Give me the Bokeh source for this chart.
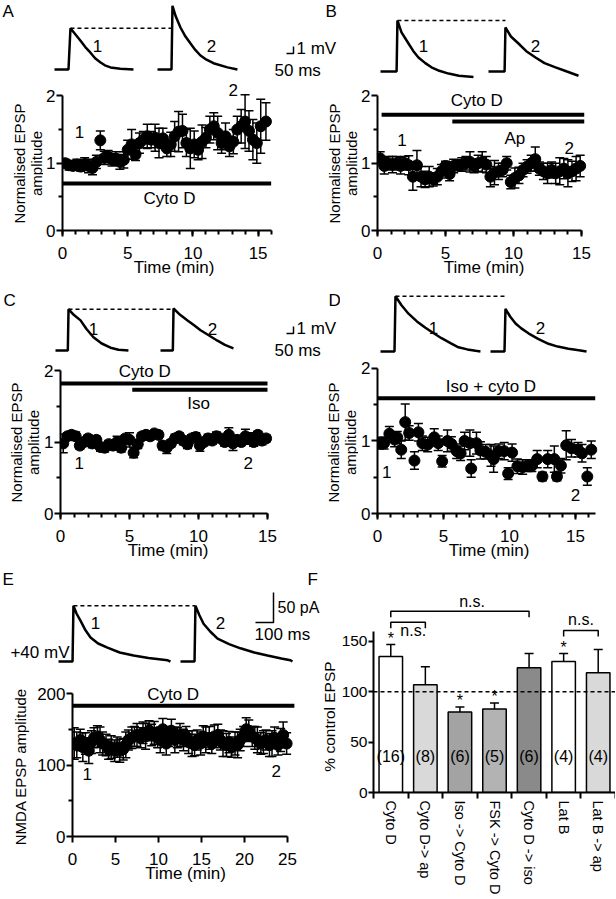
import math
from bokeh.plotting import figure
from bokeh.models import Range1d, FixedTicker, Whisker, TeeHead, ColumnDataSource, Span
from bokeh.layouts import column, row
from bokeh.embed import file_html
from bokeh.resources import INLINE
from bokeh.core.properties import value

FONT = "Liberation Sans"

# ---------------- Panel A: Cyto D ----------------
a_time = [0.2, 0.5, 0.8, 1.1, 1.4, 1.7, 2.0, 2.3, 2.6, 2.9, 3.2, 3.5, 3.8, 4.1, 4.4, 4.7, 5.0, 5.3, 5.6, 5.9,
          6.2, 6.5, 6.8, 7.1, 7.4, 7.7, 8.0, 8.3, 8.6, 8.9, 9.2, 9.5, 9.8, 10.1, 10.4, 10.7, 11.0, 11.3, 11.6, 11.9,
          12.2, 12.5, 12.8, 13.1, 13.4, 13.7, 14.0, 14.3, 14.6, 14.9, 15.2, 15.6]
a_mean = [1.00, 0.97, 0.96, 0.98, 0.95, 0.99, 0.96, 0.93, 1.02, 1.34, 1.08, 1.10, 1.05, 1.07, 1.02, 1.05, 1.20, 1.28, 1.13, 1.30,
          1.35, 1.40, 1.35, 1.38, 1.30, 1.37, 1.22, 1.28, 1.40, 1.47, 1.48, 1.30, 1.22, 1.28, 1.20, 1.32, 1.38, 1.50, 1.55, 1.45,
          1.30, 1.40, 1.25, 1.32, 1.50, 1.55, 1.62, 1.48, 1.35, 1.30, 1.55, 1.62]
a_sem = [0.06, 0.07, 0.06, 0.08, 0.07, 0.09, 0.10, 0.10, 0.10, 0.14, 0.10, 0.09, 0.09, 0.10, 0.11, 0.12, 0.14, 0.22, 0.09, 0.15,
         0.12, 0.18, 0.12, 0.20, 0.22, 0.15, 0.12, 0.18, 0.22, 0.30, 0.25, 0.20, 0.30, 0.20, 0.15, 0.25, 0.15, 0.20, 0.20, 0.25,
         0.15, 0.20, 0.15, 0.18, 0.20, 0.25, 0.40, 0.30, 0.30, 0.30, 0.40, 0.28]
a_drug = ["Cyto D"]
a_drug_start = [0.0]
a_drug_end = [16.0]
a_drug_level = [0.70]

# ---------------- Panel B: Cyto D then Ap ----------------
b_time = [0.2, 0.5, 0.8, 1.1, 1.4, 1.7, 2.0, 2.3, 2.6, 2.9, 3.2, 3.5, 3.8, 4.1, 4.4, 4.7, 5.0, 5.3, 5.6, 5.9,
          6.2, 6.5, 6.8, 7.1, 7.4, 7.7, 8.0, 8.3, 8.6, 8.9, 9.2, 9.5, 9.8, 10.1, 10.4, 10.7, 11.0, 11.3, 11.6, 11.9,
          12.2, 12.5, 12.8, 13.1, 13.4, 13.7, 14.0, 14.3, 14.6, 14.9]
b_mean = [1.07, 0.96, 1.00, 0.98, 1.00, 0.96, 1.00, 0.97, 0.80, 0.97, 0.80, 0.76, 0.80, 0.76, 0.80, 0.88, 0.96, 0.84, 0.96, 0.97,
          0.98, 1.00, 1.02, 0.96, 1.00, 1.02, 0.98, 0.80, 0.86, 0.88, 0.90, 1.00, 0.72, 0.78, 0.82, 0.90, 0.95, 1.00, 1.06, 0.92,
          0.88, 0.85, 0.90, 0.85, 0.88, 0.92, 0.85, 0.88, 0.92, 0.96]
b_sem = [0.10, 0.12, 0.10, 0.12, 0.10, 0.12, 0.10, 0.14, 0.20, 0.22, 0.15, 0.12, 0.15, 0.10, 0.12, 0.10, 0.07, 0.10, 0.10, 0.08,
         0.10, 0.10, 0.15, 0.10, 0.12, 0.15, 0.12, 0.15, 0.18, 0.12, 0.10, 0.10, 0.10, 0.15, 0.12, 0.10, 0.10, 0.12, 0.18, 0.10,
         0.12, 0.15, 0.12, 0.15, 0.20, 0.15, 0.20, 0.15, 0.18, 0.16]
b_drug = ["Cyto D", "Ap"]
b_drug_start = [0.3, 5.5]
b_drug_end = [15.2, 15.2]
b_drug_level = [1.72, 1.62]

# ---------------- Panel C: Cyto D then Iso ----------------
c_time = [0.2, 0.5, 0.8, 1.1, 1.4, 1.7, 2.0, 2.3, 2.6, 2.9, 3.2, 3.5, 3.8, 4.1, 4.4, 4.7, 5.0, 5.3, 5.6, 5.9,
          6.2, 6.5, 6.8, 7.1, 7.4, 7.7, 8.0, 8.3, 8.6, 8.9, 9.2, 9.5, 9.8, 10.1, 10.4, 10.7, 11.0, 11.3, 11.6, 11.9,
          12.2, 12.5, 12.8, 13.1, 13.4, 13.7, 14.0, 14.3, 14.6, 14.9]
c_mean = [0.98, 1.08, 1.10, 1.08, 0.95, 1.00, 1.05, 0.98, 1.03, 0.93, 0.92, 0.97, 0.95, 1.00, 0.92, 1.05, 1.03, 0.85, 0.97, 1.08,
          1.10, 1.08, 1.12, 1.10, 0.95, 0.92, 0.98, 1.05, 1.08, 1.02, 0.97, 1.05, 1.07, 0.95, 1.00, 1.05, 1.02, 1.08, 1.05, 1.00,
          1.10, 0.98, 1.03, 1.00, 1.08, 1.05, 1.00, 1.10, 1.02, 1.05]
c_sem = [0.13, 0.05, 0.05, 0.06, 0.05, 0.06, 0.05, 0.06, 0.05, 0.06, 0.06, 0.05, 0.06, 0.08, 0.06, 0.05, 0.10, 0.07, 0.06, 0.05,
         0.05, 0.05, 0.04, 0.05, 0.06, 0.08, 0.05, 0.06, 0.05, 0.06, 0.06, 0.05, 0.06, 0.08, 0.05, 0.06, 0.05, 0.06, 0.05, 0.06,
         0.10, 0.10, 0.06, 0.05, 0.10, 0.08, 0.06, 0.05, 0.06, 0.05]
c_drug = ["Cyto D", "Iso"]
c_drug_start = [0.0, 5.2]
c_drug_end = [15.0, 15.0]
c_drug_level = [1.82, 1.73]

# ---------------- Panel D: Iso + cyto D ----------------
d_time = [0.15, 0.5, 0.9, 1.3, 1.5, 1.8, 2.1, 2.4, 2.8, 3.1, 3.4, 3.8, 4.3, 4.6, 4.9, 5.3, 5.6, 6.0, 6.3, 6.6,
          7.0, 7.1, 7.5, 7.8, 8.2, 8.6, 8.8, 9.2, 9.6, 9.9, 10.2, 10.6, 11.0, 11.4, 11.7, 12.1, 12.5, 12.9, 13.4, 13.6,
          13.9, 14.3, 14.7, 15.2, 15.5, 15.9, 16.2]
d_mean = [0.97, 0.97, 1.10, 1.02, 1.05, 0.88, 1.26, 1.11, 0.73, 1.12, 0.97, 0.95, 1.05, 0.97, 0.72, 1.00, 0.96, 0.86, 0.83, 1.00,
          0.97, 0.62, 0.97, 0.87, 0.85, 0.80, 0.75, 0.86, 0.86, 0.55, 0.84, 0.65, 0.64, 0.66, 0.66, 0.75, 0.51, 0.75, 0.75, 0.51,
          0.66, 0.94, 0.90, 0.88, 0.83, 0.51, 0.88]
d_sem = [0.08, 0.08, 0.10, 0.10, 0.08, 0.12, 0.25, 0.10, 0.12, 0.12, 0.10, 0.10, 0.12, 0.10, 0.08, 0.15, 0.10, 0.10, 0.10, 0.12,
         0.18, 0.12, 0.15, 0.12, 0.10, 0.15, 0.18, 0.10, 0.12, 0.08, 0.12, 0.10, 0.10, 0.08, 0.08, 0.12, 0.06, 0.12, 0.18, 0.06,
         0.10, 0.20, 0.12, 0.10, 0.12, 0.12, 0.12]
d_drug = ["Iso + cyto D"]
d_drug_start = [0.0]
d_drug_end = [16.5]
d_drug_level = [1.59]

# ---------------- Panel E: NMDA EPSP, Cyto D ----------------
e_time = [0.2, 0.5, 0.9, 1.2, 1.5, 1.9, 2.2, 2.5, 2.9, 3.2, 3.5, 3.9, 4.2, 4.5, 4.9, 5.2, 5.5, 5.9, 6.2, 6.5,
          6.9, 7.2, 7.5, 7.9, 8.2, 8.5, 8.9, 9.2, 9.5, 9.9, 10.2, 10.5, 10.9, 11.2, 11.5, 11.9, 12.2, 12.5, 12.9, 13.2,
          13.5, 13.9, 14.2, 14.5, 14.9, 15.2, 15.5, 15.9, 16.2, 16.5, 16.9, 17.2, 17.5, 17.9, 18.2, 18.5, 18.9, 19.2, 19.5, 19.9,
          20.2, 20.5, 20.9, 21.2, 21.5, 21.9, 22.2, 22.5, 22.9, 23.2, 23.5, 23.9, 24.2, 24.5, 24.9]
e_mean = [130, 128, 135, 125, 130, 120, 132, 138, 140, 135, 130, 128, 122, 125, 120, 125, 120, 122, 128, 135,
          138, 140, 142, 138, 145, 140, 148, 142, 145, 138, 135, 150, 130, 140, 148, 135, 138, 142, 135, 140,
          132, 130, 128, 135, 130, 140, 135, 138, 130, 140, 142, 135, 130, 128, 132, 125, 130, 128, 135, 140,
          150, 148, 140, 138, 135, 130, 132, 135, 128, 130, 138, 128, 135, 142, 130]
e_sem = [22, 18, 15, 20, 15, 18, 16, 14, 15, 18, 16, 15, 14, 16, 15, 14, 16, 15, 18, 14,
         15, 14, 16, 14, 15, 18, 14, 15, 16, 14, 18, 15, 16, 14, 16, 18, 14, 16, 15, 14,
         16, 18, 15, 14, 16, 15, 18, 16, 14, 16, 15, 14, 18, 16, 15, 14, 16, 18, 15, 14,
         16, 15, 14, 16, 18, 15, 16, 14, 16, 18, 15, 14, 16, 18, 15]
e_drug = ["Cyto D"]
e_drug_start = [0.0]
e_drug_end = [25.8]
e_drug_level = [183]

# ---------------- Panel F: summary ----------------
f_groups = ["Cyto D", "Cyto D-> ap", "Iso -> Cyto D", "FSK -> Cyto D", "Cyto D -> iso", "Lat B", "Lat B -> ap"]
f_mean = [135, 107, 80, 83, 124, 130, 119]
f_sem = [12, 18, 5, 6, 14, 8, 23]
f_n = ["(16)", "(8)", "(6)", "(5)", "(6)", "(4)", "(4)"]
f_color = ["#ffffff", "#d9d9d9", "#a3a3a3", "#b3b3b3", "#8a8a8a", "#ffffff", "#d9d9d9"]
f_star = [1, 0, 1, 1, 0, 1, 0]
f_bracket_from = [0, 0, 5]
f_bracket_to = [4, 1, 6]
f_bracket_level = [180, 169, 161]

# ---------------- example traces (ms, mV / pA relative to baseline) ----------------
trA1_t = [0, 100, 114, 150, 186, 220, 257, 290, 329, 360, 400, 470, 564]
trA1_v = [0, 0, 5.9, 5.0, 4.1, 3.2, 2.4, 1.6, 1.0, 0.6, 0.3, 0.1, 0]
trA2_t = [0, 100, 107, 130, 164, 200, 236, 270, 307, 350, 400, 500, 571]
trA2_v = [0, 0, 9.1, 7.6, 6.0, 4.7, 3.7, 2.8, 2.0, 1.4, 0.9, 0.3, 0]
trB1_t = [0, 115, 121, 150, 200, 235, 271, 320, 364, 420, 486, 560, 664]
trB1_v = [0, 0, 7.3, 5.6, 4.0, 2.9, 2.0, 1.2, 0.6, 0.1, -0.3, -0.6, -0.8]
trB2_t = [0, 115, 121, 160, 214, 270, 336, 400, 479, 560, 643]
trB2_v = [0, 0, 6.3, 5.0, 4.0, 2.9, 2.0, 1.2, 0.6, 0.0, -0.6]
trC1_t = [0, 88, 93, 130, 179, 220, 271, 330, 393, 450, 521]
trC1_v = [0, 0, 5.9, 5.1, 4.3, 3.1, 1.9, 1.0, 0.4, 0.1, 0]
trC2_t = [0, 88, 93, 140, 193, 240, 286, 350, 407, 460, 521]
trC2_v = [0, 0, 6.0, 5.1, 4.3, 3.6, 2.9, 2.1, 1.4, 0.8, 0.3]
trD1_t = [0, 100, 107, 150, 200, 260, 321, 380, 436, 500, 557, 620, 679, 714]
trD1_v = [0, 0, 7.9, 6.6, 5.4, 4.3, 3.4, 2.6, 1.9, 1.2, 0.6, 0.3, 0.1, 0]
trD2_t = [0, 100, 107, 140, 179, 220, 271, 340, 414, 480, 557, 620, 686]
trD2_v = [0, 0, 6.1, 5.0, 4.0, 3.3, 2.6, 1.8, 1.1, 0.7, 0.4, 0.2, 0]
trE1_t = [0, 78, 83, 100, 122, 150, 178, 220, 272, 340, 417, 500, 606, 622]
trE1_v = [0, 0, 93, 80, 68, 52, 40, 30, 23, 15, 10, 6, 2, 0]
trE2_t = [0, 78, 83, 105, 128, 165, 206, 270, 333, 410, 483, 560, 611, 622]
trE2_v = [0, 0, 93, 77, 63, 50, 38, 29, 22, 15, 10, 5, 2, 0]

TICK_FS = "17px"
TEXT_FS = "17px"


def base_fig(w, h, xr, yr, bl=0, br=0, bt=0, bb=0, axes=True):
    kw = dict(width=w, height=h, x_range=Range1d(*xr), y_range=Range1d(*yr),
              output_backend="svg", toolbar_location=None,
              min_border_left=bl, min_border_right=br, min_border_top=bt, min_border_bottom=bb)
    if not axes:
        kw.update(x_axis_type=None, y_axis_type=None)
    p = figure(**kw)
    p.outline_line_color = None
    p.grid.visible = False
    p.background_fill_color = "white"
    p.border_fill_color = "white"
    return p


def style_axes(p, xt, xminor, xb, yt, yminor, yb, xlabel):
    ax, ay = p.xaxis[0], p.yaxis[0]
    ax.ticker = FixedTicker(ticks=xt, minor_ticks=xminor)
    ay.ticker = FixedTicker(ticks=yt, minor_ticks=yminor)
    ax.bounds = xb
    ay.bounds = yb
    for a in (ax, ay):
        a.axis_line_width = 2
        a.axis_line_color = "black"
        a.major_tick_line_width = 2
        a.minor_tick_line_width = 2
        a.major_tick_line_color = "black"
        a.minor_tick_line_color = "black"
        a.major_tick_in = 0
        a.minor_tick_in = 0
        a.major_tick_out = 6
        a.minor_tick_out = 4
        a.major_label_text_font = FONT
        a.major_label_text_font_size = TICK_FS
        a.major_label_text_color = "black"
        a.axis_label_text_font = FONT
        a.axis_label_text_font_style = "normal"
        a.axis_label_text_color = "black"
    ax.axis_label = xlabel
    ax.axis_label_text_font_size = "17px"
    ax.major_label_standoff = 10
    ax.axis_label_standoff = -4
    ay.major_label_standoff = 1


def title_fig(left, top, w, h, cx, cy, text, size="15px"):
    """Narrow figure (page pixel coordinates) holding a rotated y-axis title."""
    p = base_fig(w, h, (left, left + w), (top + h, top), axes=False)
    p.text(x=[cx], y=[cy], text=[text], angle=math.pi / 2, text_font=value(FONT), text_font_size=size,
           text_align="center", text_baseline="middle", text_line_height=1.0, text_color="black")
    return column(p)


def time_course(p, t, m, s):
    src = ColumnDataSource(dict(t=t, m=m, lo=[a - b for a, b in zip(m, s)], hi=[a + b for a, b in zip(m, s)]))
    wk = Whisker(source=src, base="t", upper="hi", lower="lo", line_width=1.5, line_color="black",
                 upper_head=TeeHead(size=9, line_width=1.5, line_color="black"),
                 lower_head=TeeHead(size=9, line_width=1.5, line_color="black"))
    p.add_layout(wk)
    p.scatter("t", "m", source=src, size=11, color="black")


def drug_bars(p, start, end, level):
    p.segment(x0=start, y0=level, x1=end, y1=level, line_width=4, color="black")


def texts(p, xs, ys, labels, size=TEXT_FS, align="center", baseline="middle"):
    p.text(x=xs, y=ys, text=labels, text_font=value(FONT), text_font_size=size,
           text_align=align, text_baseline=baseline, text_color="black")


def trace_fig(left, top, w, h, base, pxms, pxu):
    p = base_fig(w, h, (0, w / pxms), ((base - (top + h)) / pxu, (base - top) / pxu), axes=False)
    X = lambda ix: (ix - left) / pxms
    Y = lambda iy: (base - iy) / pxu
    return p, X, Y


def draw_pair(p, X, s1, t1, v1, s2, t2, v2):
    o1, o2 = X(s1), X(s2)
    p.line([o1 + x for x in t1], v1, line_width=2.5, color="black")
    p.line([o2 + x for x in t2], v2, line_width=2.5, color="black")
    i1 = v1.index(max(v1))
    i2 = v2.index(max(v2))
    p.line([o1 + t1[i1], o2 + t2[i2]], [v1[i1], v1[i1]], line_width=1.5, line_dash="4 3", color="black")


def scale_bar(p, cx, cy, dt, dv):
    p.line([cx - dt, cx, cx], [cy, cy, cy + dv], line_width=1.5, color="black")


PXMS, PXMV = 0.14, 7.0

# ---------- Row 1 traces (page y 0..80) ----------
trA, XA, YA = trace_fig(0, 0, 340, 80, 69, PXMS, PXMV)
draw_pair(trA, XA, 54, trA1_t, trA1_v, 157, trA2_t, trA2_v)
texts(trA, [XA(97), XA(211)], [YA(45), YA(45)], ["1", "2"])
scale_bar(trA, XA(293), YA(53), 50, 1)
texts(trA, [XA(296)], [YA(48)], ["1 mV"], align="left")
texts(trA, [XA(274)], [YA(70)], ["50 ms"], align="left")
texts(trA, [XA(2), XA(325)], [YA(10.5), YA(10.5)], ["A", "B"], align="left")

trB, XB, YB = trace_fig(340, 0, 275, 80, 71, PXMS, PXMV)
draw_pair(trB, XB, 380, trB1_t, trB1_v, 488, trB2_t, trB2_v)
texts(trB, [XB(423), XB(535)], [YB(45), YB(45)], ["1", "2"])

# ---------- Row 1 plots (page y 80..280) ----------
tA = title_fig(0, 80, 43, 200, 27, 163, "Normalised EPSP\namplitude")
pA = base_fig(265, 200, (0, 17.1), (0, 2.23), bl=18, br=23, bt=0, bb=50)
style_axes(pA, [0, 5, 10, 15], list(range(0, 17)), (0, 16), [0, 1, 2], [0.5, 1.5], (0, 2), "Time (min)")
drug_bars(pA, a_drug_start, a_drug_end, a_drug_level)
time_course(pA, a_time, a_mean, a_sem)
texts(pA, [8.2], [0.48], a_drug)
texts(pA, [1.3, 13.1], [1.46, 2.09], ["1", "2"])

tB = title_fig(308, 80, 50, 200, 342, 163, "Normalised EPSP\namplitude")
pB = base_fig(257, 200, (0, 15.66), (0, 2.23), bl=17, br=25, bt=0, bb=50)
style_axes(pB, [0, 5, 10, 15], list(range(0, 16)), (0, 15), [0, 1, 2], [0.5, 1.5], (0, 2), "Time (min)")
drug_bars(pB, b_drug_start, b_drug_end, b_drug_level)
time_course(pB, b_time, b_mean, b_sem)
texts(pB, [7.3, 10.1], [1.94, 1.37], b_drug)
texts(pB, [1.8, 14.1], [1.34, 1.22], ["1", "2"])

# ---------- Row 2 traces (page y 280..360) ----------
trC, XC, YC = trace_fig(0, 280, 340, 80, 350, PXMS, PXMV)
draw_pair(trC, XC, 55, trC1_t, trC1_v, 160, trC2_t, trC2_v)
texts(trC, [XC(93), XC(212)], [YC(328), YC(328)], ["1", "2"])
scale_bar(trC, XC(293), YC(333), 50, 1)
texts(trC, [XC(296)], [YC(328)], ["1 mV"], align="left")
texts(trC, [XC(274)], [YC(350)], ["50 ms"], align="left")
texts(trC, [XC(3), XC(328)], [YC(300), YC(300)], ["C", "D"], align="left")

trD, XD, YD = trace_fig(340, 280, 275, 80, 351, PXMS, PXMV)
draw_pair(trD, XD, 380, trD1_t, trD1_v, 490, trD2_t, trD2_v)
texts(trD, [XD(433), XD(540)], [YD(327), YD(327)], ["1", "2"])

# ---------- Row 2 plots (page y 360..568) ----------
tC = title_fig(0, 360, 41, 208, 24.5, 442, "Normalised EPSP\namplitude")
pC = base_fig(267, 208, (0, 15.58), (0, 2.14), bl=17, br=33, bt=0, bb=55)
style_axes(pC, [0, 5, 10, 15], list(range(0, 16)), (0, 15), [0, 1, 2], [0.5, 1.5], (0, 2), "Time (min)")
drug_bars(pC, c_drug_start, c_drug_end, c_drug_level)
time_course(pC, c_time, c_mean, c_sem)
texts(pC, [6.1, 10.0], [1.99, 1.54], c_drug)
texts(pC, [1.35, 13.6], [0.70, 0.71], ["1", "2"])

tD = title_fig(308, 360, 50, 208, 341, 442, "Normalised EPSP\namplitude")
pD = base_fig(257, 208, (0, 16.9), (0, 2.11), bl=17, br=15, bt=0, bb=55)
style_axes(pD, [0, 5, 10, 15], list(range(0, 17)), (0, 16.5), [0, 1, 2], [0.5, 1.5], (0, 2), "Time (min)")
drug_bars(pD, d_drug_start, d_drug_end, d_drug_level)
time_course(pD, d_time, d_mean, d_sem)
texts(pD, [8.6], [1.75], d_drug)
texts(pD, [0.7, 15.0], [0.57, 0.25], ["1", "2"])

# ---------- Row 3: E traces (page y 568..682) ----------
trE, XE, YE = trace_fig(0, 568, 320, 114, 661, 0.18, 0.6)
draw_pair(trE, XE, 58, trE1_t, trE1_v, 180, trE2_t, trE2_v)
texts(trE, [XE(95), XE(220)], [YE(622), YE(622)], ["1", "2"])
scale_bar(trE, XE(273), YE(622), 100, 50)
texts(trE, [XE(277)], [YE(607)], ["50 pA"], size="16px", align="left")
texts(trE, [XE(254)], [YE(634)], ["100 ms"], align="left")
texts(trE, [XE(69)], [YE(652)], ["+40 mV"], align="right")
texts(trE, [XE(2), XE(307)], [YE(579), YE(579)], ["E", "F"], align="left")

# ---------- Row 3: E plot (page y 682..898) ----------
tE = title_fig(0, 682, 34, 216, 20, 766, "NMDA EPSP amplitude")
pE = base_fig(286, 216, (0, 26.28), (0, 215.4), bl=38, br=22, bt=0, bb=62)
style_axes(pE, [0, 5, 10, 15, 20, 25], [], (0, 25), [0, 100, 200], [50, 150], (0, 200), "Time (min)")
drug_bars(pE, e_drug_start, e_drug_end, e_drug_level)
time_course(pE, e_time, e_mean, e_sem)
texts(pE, [11.7], [199], e_drug)
texts(pE, [1.7, 23.7], [88, 92], ["1", "2"])

# ---------- Row 3: F (page y 568..898) ----------
centers = [i + 0.5 for i in range(len(f_groups))]
tF = title_fig(320, 568, 18, 330, 329, 716, "% control EPSP", "15.5px")
pF = base_fig(277, 330, (0, 7), (0, 200.6), bl=32, br=0, bt=22, bb=106)
style_axes(pF, centers, list(range(0, 8)), (0, 7), [0, 50, 100, 150], [], (0, 160), "")
pF.yaxis[0].major_tick_out = 5
pF.yaxis[0].major_label_text_font_size = "15.5px"
ax = pF.xaxis[0]
ax.major_tick_out = 0
ax.minor_tick_out = 6
ax.major_label_overrides = {c: g for c, g in zip(centers, f_groups)}
ax.major_label_orientation = -math.pi / 2
ax.major_label_text_font_size = "14.5px"
ax.major_label_standoff = 2
pF.vbar(x=centers, top=f_mean, width=0.68, fill_color=f_color, line_color="black", line_width=1.5)
fsrc = ColumnDataSource(dict(x=centers, lo=f_mean, hi=[m + s for m, s in zip(f_mean, f_sem)]))
pF.add_layout(Whisker(source=fsrc, base="x", upper="hi", lower="lo", line_width=1.5, line_color="black",
                      upper_head=TeeHead(size=9, line_width=1.5, line_color="black"), lower_head=None))
pF.add_layout(Span(location=100, dimension="width", line_dash="4 3", line_width=1.5, line_color="black"))
texts(pF, centers, [36 for _ in centers], f_n, size="16px")
sx = [c for c, s in zip(centers, f_star) if s]
sy = [m + e + 6 for m, e, s in zip(f_mean, f_sem, f_star) if s]
texts(pF, sx, sy, ["*"] * len(sx), size="16px")
bx, by = [], []
for a, b, lv in zip(f_bracket_from, f_bracket_to, f_bracket_level):
    bx.append([centers[a], centers[a], centers[b], centers[b]])
    by.append([lv - 6, lv, lv, lv - 6])
pF.multi_line(bx, by, line_width=1.5, color="black")
texts(pF, [2.85, 1.15, 6.0], [190, 161, 172], ["n.s.", "n.s.", "n.s."], size="16px")

layout = column(
    column(row(trA, trB), row(tA, pA, tB, pB)),
    column(row(trC, trD), row(tC, pC, tD, pD)),
    row(column(row(trE), row(tE, pE)), tF, pF),
)

open("out.html", "w").write(file_html(layout, INLINE))
